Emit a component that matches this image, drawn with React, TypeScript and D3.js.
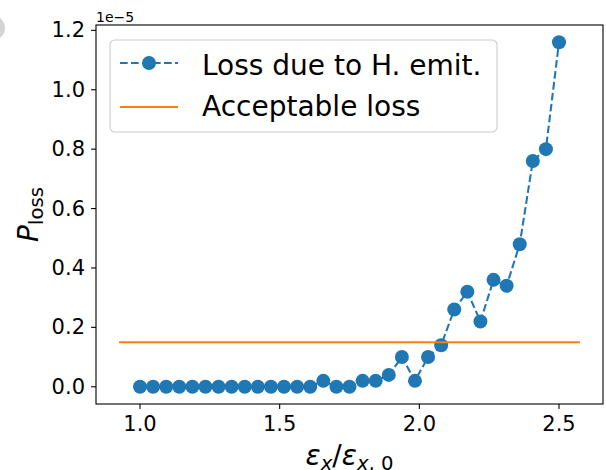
import React from "react";
import * as d3 from "d3";

// Data (values in units of 1e-5)
const xValues: number[] = [
  1.0, 1.046875, 1.09375, 1.140625, 1.1875, 1.234375, 1.28125, 1.328125, 1.375,
  1.421875, 1.46875, 1.515625, 1.5625, 1.609375, 1.65625, 1.703125, 1.75,
  1.796875, 1.84375, 1.890625, 1.9375, 1.984375, 2.03125, 2.078125, 2.125,
  2.171875, 2.21875, 2.265625, 2.3125, 2.359375, 2.40625, 2.453125, 2.5,
];
const lossValues: number[] = [
  0, 0, 0, 0, 0, 0, 0, 0, 0, 0, 0, 0, 0, 0, 0.02, 0, 0, 0.02, 0.02, 0.04, 0.1,
  0.02, 0.1, 0.14, 0.26, 0.32, 0.22, 0.36, 0.34, 0.48, 0.76, 0.8, 1.16,
];
const acceptableLoss = 0.15;
const acceptableRange: number[] = [0.925, 2.575];
const xTicks: number[] = [1.0, 1.5, 2.0, 2.5];
const yTicks: number[] = [0.0, 0.2, 0.4, 0.6, 0.8, 1.0, 1.2];
const legendLabels: string[] = ["Loss due to H. emit.", "Acceptable loss"];
const offsetLabel = "1e\u22125";

const W = 606;
const H = 470;
const left = 96;
const right = 603;
const top = 25;
const bottom = 404;
const BLUE = "#1f77b4";
const ORANGE = "#ff7f0e";
const FONT = "DejaVu Sans, sans-serif";

export default function App() {
  const x = d3.scaleLinear().domain([0.8425, 2.6575]).range([left, right]);
  const y = d3.scaleLinear().domain([-0.058, 1.218]).range([bottom, top]);
  const pts = xValues.map((v, i) => [v, lossValues[i]] as [number, number]);
  const line = d3
    .line<[number, number]>()
    .x((d) => x(d[0]))
    .y((d) => y(d[1]));

  const lw = 2.08;
  const dash = "7.7 3.3";
  const r = 7;
  const tickLen = 4.9;

  // legend geometry
  const lgX = 110;
  const lgY = 40;
  const lgW = 387;
  const lgH = 92;
  const hx0 = 120;
  const hx1 = 178;
  const row1 = 63;
  const row2 = 107;

  return (
    <svg
      width={W}
      height={H}
      style={{ position: "absolute", left: 0, top: 0, background: "#fff" }}
      fontFamily={FONT}
    >
      <rect x={0} y={0} width={W} height={H} fill="#fff" />
      <circle cx={-7.5} cy={28} r={12.5} fill="#d4d4d4" />

      {/* data line */}
      <path
        d={line(pts) || ""}
        fill="none"
        stroke={BLUE}
        strokeWidth={lw}
        strokeDasharray={dash}
      />
      {pts.map((p, i) => (
        <circle key={i} cx={x(p[0])} cy={y(p[1])} r={r} fill={BLUE} />
      ))}
      <line
        x1={x(acceptableRange[0])}
        x2={x(acceptableRange[1])}
        y1={y(acceptableLoss)}
        y2={y(acceptableLoss)}
        stroke={ORANGE}
        strokeWidth={lw}
      />

      {/* frame */}
      <rect
        x={left}
        y={top}
        width={right - left}
        height={bottom - top}
        fill="none"
        stroke="#000"
        strokeWidth={1.1}
      />

      {/* x ticks */}
      {xTicks.map((t) => (
        <g key={"x" + t}>
          <line
            x1={x(t)}
            x2={x(t)}
            y1={bottom}
            y2={bottom + tickLen}
            stroke="#000"
            strokeWidth={1.1}
          />
          <text
            x={x(t)}
            y={431}
            fontSize={21}
            textAnchor="middle"
            fill="#000"
          >
            {t.toFixed(1)}
          </text>
        </g>
      ))}
      {/* y ticks */}
      {yTicks.map((t) => (
        <g key={"y" + t}>
          <line
            x1={left - tickLen}
            x2={left}
            y1={y(t)}
            y2={y(t)}
            stroke="#000"
            strokeWidth={1.1}
          />
          <text
            x={85}
            y={y(t)}
            fontSize={21}
            textAnchor="end"
            dominantBaseline="central"
            fill="#000"
          >
            {t.toFixed(1)}
          </text>
        </g>
      ))}
      <text x={left} y={22} fontSize={14} fill="#000">
        {offsetLabel}
      </text>

      {/* x label */}
      <text
        x={(left + right) / 2}
        y={465}
        fontSize={28}
        textAnchor="middle"
        fill="#000"
      >
        <tspan fontStyle="italic">ε</tspan>
        <tspan fontStyle="italic" fontSize={19.6} dy={5}>
          x
        </tspan>
        <tspan dy={-5}>/</tspan>
        <tspan fontStyle="italic">ε</tspan>
        <tspan fontStyle="italic" fontSize={19.6} dy={5}>
          x
        </tspan>
        <tspan fontSize={19.6}>, 0</tspan>
      </text>

      {/* y label */}
      <text
        transform={`translate(38, ${(top + bottom) / 2}) rotate(-90)`}
        fontSize={28}
        textAnchor="middle"
        fill="#000"
      >
        <tspan fontStyle="italic">P</tspan>
        <tspan fontSize={19.6} dy={5}>
          loss
        </tspan>
      </text>

      {/* legend */}
      <rect
        x={lgX}
        y={lgY}
        width={lgW}
        height={lgH}
        rx={5}
        fill="#fff"
        fillOpacity={0.8}
        stroke="#cccccc"
        strokeWidth={1.1}
      />
      <line
        x1={hx0}
        x2={hx1}
        y1={row1}
        y2={row1}
        stroke={BLUE}
        strokeWidth={lw}
        strokeDasharray={dash}
      />
      <circle cx={(hx0 + hx1) / 2} cy={row1} r={r} fill={BLUE} />
      <text x={202} y={75} fontSize={28} fill="#000">
        {legendLabels[0]}
      </text>
      <line
        x1={hx0}
        x2={hx1}
        y1={row2}
        y2={row2}
        stroke={ORANGE}
        strokeWidth={lw}
      />
      <text x={202} y={116} fontSize={28} fill="#000">
        {legendLabels[1]}
      </text>
    </svg>
  );
}
